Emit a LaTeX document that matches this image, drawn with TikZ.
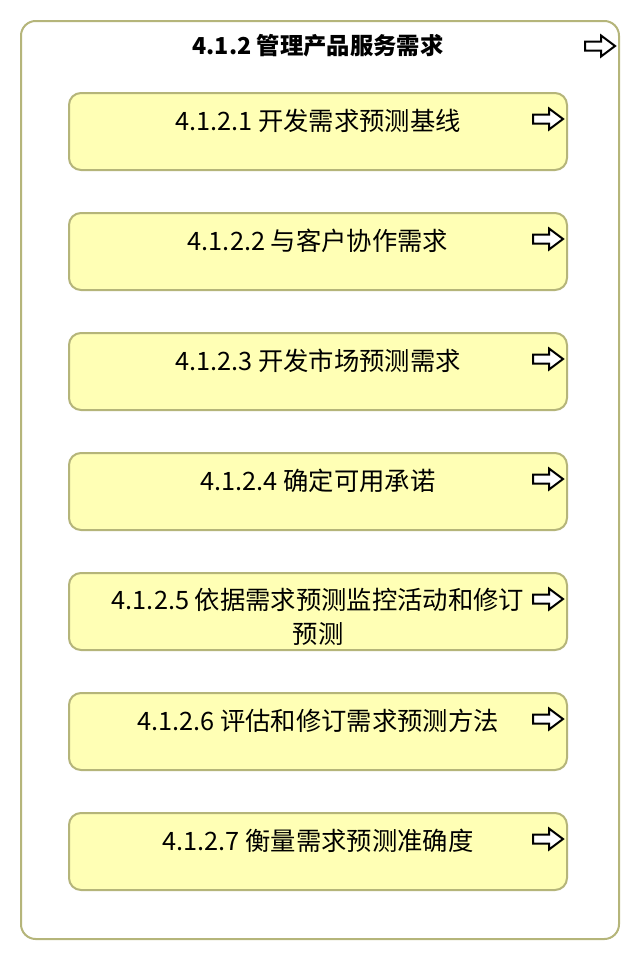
\documentclass[tikz,border=0pt]{standalone}
\usepackage{fontspec}
\setmainfont{Noto Sans CJK SC}
\definecolor{boxfill}{HTML}{FFFFB5}
\definecolor{boxline}{HTML}{B5B57A}
\begin{document}
\begin{tikzpicture}[x=0.75pt,y=-0.75pt,
  outer/.style={draw=boxline,line width=1.5pt,fill=white,rounded corners=11pt},
  procbox/.style={draw=boxline,line width=1.5pt,fill=boxfill,rounded corners=9pt,minimum width=373.5pt,minimum height=57.75pt,inner sep=0pt},
  label/.style={font=\fontsize{19pt}{25.5pt}\selectfont,align=center,inner sep=0pt},
  title/.style={font=\fontsize{17.5pt}{22pt}\selectfont\bfseries,inner sep=0pt},
  arrowicon/.style={draw=black,line width=1.5pt,fill=white,line join=miter},
  fwd/.pic={\draw[arrowicon] (0,-4.5) -- (16,-4.5) -- (16,-10.5) -- (30,0) -- (16,10.5) -- (16,4.5) -- (0,4.5) -- cycle;}
]
\useasboundingbox (0,0) rectangle (640,960);
\draw[outer] (21,21) rectangle (619,939);
\node[title] (title) at (318,46) {4.1.2 管理产品服务需求};
\pic at (585,46) {fwd};

\foreach \i/\txt in {1/{4.1.2.1 开发需求预测基线},2/{4.1.2.2 与客户协作需求},3/{4.1.2.3 开发市场预测需求},4/{4.1.2.4 确定可用承诺},6/{4.1.2.6 评估和修订需求预测方法},7/{4.1.2.7 衡量需求预测准确度}}{
  \node[procbox] (b\i) at (318,{131.5+120*(\i-1)}) {};
  \node[label] (t\i) at (318,{121+120*(\i-1)}) {\txt};
  \pic at (533,{119+120*(\i-1)}) {fwd};
}
\node[procbox] (b5) at (318,611.5) {};
\node[label] (t5) at (318,617) {4.1.2.5 依据需求预测监控活动和修订\\预测};
\pic at (533,599) {fwd};
\end{tikzpicture}
\end{document}
